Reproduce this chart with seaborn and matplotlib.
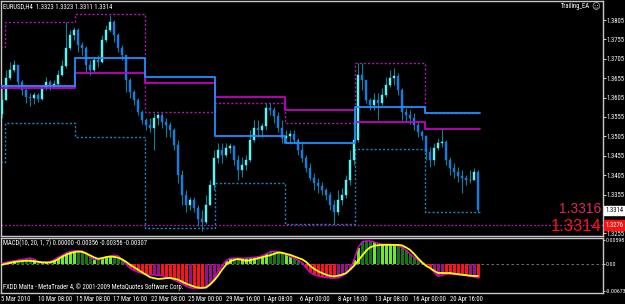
import numpy as np
import pandas as pd
import matplotlib
matplotlib.use("Agg")
import matplotlib.pyplot as plt
from matplotlib import font_manager
import seaborn as sns

# ---------------- data ----------------
first_open = 1.3562
closes = [
    1.3598, 1.3655, 1.3676, 1.3689, 1.3645, 1.3624, 1.3606, 1.3603, 1.3611, 1.3601,
    1.3629, 1.3645, 1.3634, 1.3640, 1.3663, 1.3686, 1.3733, 1.3766, 1.3779, 1.3740,
    1.3733, 1.3689, 1.3676, 1.3702, 1.3696, 1.3753, 1.3779, 1.3800, 1.3766, 1.3733,
    1.3715, 1.3650, 1.3619, 1.3598, 1.3567, 1.3547, 1.3534, 1.3526, 1.3552, 1.3560,
    1.3541, 1.3534, 1.3521, 1.3482, 1.3405, 1.3353, 1.3327, 1.3340, 1.3319, 1.3293,
    1.3283, 1.3327, 1.3379, 1.3448, 1.3469, 1.3456, 1.3474, 1.3479, 1.3443, 1.3417,
    1.3430, 1.3443, 1.3495, 1.3526, 1.3521, 1.3531, 1.3578, 1.3572, 1.3557, 1.3526,
    1.3500, 1.3505, 1.3510, 1.3495, 1.3469, 1.3448, 1.3423, 1.3397, 1.3384, 1.3376,
    1.3366, 1.3353, 1.3327, 1.3309, 1.3340, 1.3353, 1.3392, 1.3443, 1.3495, 1.3663,
    1.3650, 1.3598, 1.3585, 1.3598, 1.3591, 1.3611, 1.3637, 1.3655, 1.3660, 1.3624,
    1.3567, 1.3560, 1.3552, 1.3534, 1.3516, 1.3505, 1.3464, 1.3443, 1.3474, 1.3487,
    1.3490, 1.3443, 1.3423, 1.3412, 1.3402, 1.3397, 1.3392, 1.3392, 1.3412, 1.3314,
]
highs = [
    1.3637, 1.3676, 1.3696, 1.3702, 1.3686, 1.3650, 1.3629, 1.3616, 1.3619, 1.3616,
    1.3637, 1.3658, 1.3650, 1.3650, 1.3676, 1.3702, 1.3800, 1.3779, 1.3787, 1.3784,
    1.3748, 1.3738, 1.3702, 1.3707, 1.3715, 1.3766, 1.3792, 1.3818, 1.3805, 1.3771,
    1.3740, 1.3715, 1.3655, 1.3624, 1.3603, 1.3572, 1.3552, 1.3552, 1.3565, 1.3565,
    1.3565, 1.3552, 1.3541, 1.3526, 1.3495, 1.3417, 1.3366, 1.3348, 1.3348, 1.3327,
    1.3314, 1.3353, 1.3392, 1.3469, 1.3487, 1.3487, 1.3487, 1.3487, 1.3482, 1.3456,
    1.3451, 1.3456, 1.3521, 1.3547, 1.3547, 1.3539, 1.3591, 1.3591, 1.3580, 1.3567,
    1.3547, 1.3521, 1.3521, 1.3521, 1.3500, 1.3487, 1.3456, 1.3435, 1.3410, 1.3397,
    1.3386, 1.3373, 1.3361, 1.3340, 1.3366, 1.3371, 1.3405, 1.3469, 1.3513, 1.3694,
    1.3694, 1.3645, 1.3603, 1.3616, 1.3616, 1.3629, 1.3658, 1.3676, 1.3681, 1.3668,
    1.3629, 1.3578, 1.3572, 1.3565, 1.3541, 1.3521, 1.3508, 1.3477, 1.3487, 1.3500,
    1.3526, 1.3495, 1.3451, 1.3435, 1.3425, 1.3417, 1.3405, 1.3417, 1.3423, 1.3417,
]
lows = [
    1.3552, 1.3598, 1.3650, 1.3671, 1.3629, 1.3611, 1.3591, 1.3583, 1.3588, 1.3593,
    1.3598, 1.3624, 1.3624, 1.3629, 1.3634, 1.3660, 1.3681, 1.3727, 1.3753, 1.3722,
    1.3715, 1.3671, 1.3663, 1.3671, 1.3683, 1.3694, 1.3748, 1.3774, 1.3748, 1.3722,
    1.3702, 1.3619, 1.3603, 1.3585, 1.3560, 1.3536, 1.3521, 1.3516, 1.3469, 1.3534,
    1.3526, 1.3503, 1.3503, 1.3469, 1.3384, 1.3327, 1.3309, 1.3314, 1.3309, 1.3275,
    1.3262, 1.3280, 1.3327, 1.3366, 1.3435, 1.3435, 1.3451, 1.3461, 1.3430, 1.3392,
    1.3399, 1.3417, 1.3438, 1.3490, 1.3503, 1.3503, 1.3521, 1.3560, 1.3539, 1.3516,
    1.3487, 1.3487, 1.3487, 1.3487, 1.3456, 1.3438, 1.3412, 1.3392, 1.3366, 1.3358,
    1.3353, 1.3340, 1.3314, 1.3280, 1.3301, 1.3327, 1.3345, 1.3379, 1.3430, 1.3490,
    1.3624, 1.3591, 1.3572, 1.3572, 1.3547, 1.3585, 1.3606, 1.3632, 1.3637, 1.3611,
    1.3547, 1.3541, 1.3536, 1.3521, 1.3503, 1.3495, 1.3443, 1.3425, 1.3430, 1.3469,
    1.3477, 1.3430, 1.3405, 1.3397, 1.3386, 1.3358, 1.3379, 1.3384, 1.3392, 1.3309,
]

macd_main = [
    0.00012, 0.00037, 0.00057, 0.00075, 0.00092, 0.00107, 0.00125, 0.00142, 0.00112, 0.00050,
    0.00025, 0.00037, 0.00057, 0.00100, 0.00162, 0.00212, 0.00274, 0.00306, 0.00324, 0.00329,
    0.00324, 0.00274, 0.00174, 0.00112, 0.00100, 0.00125, 0.00162, 0.00187, 0.00212, 0.00199,
    0.00100, -0.00012, -0.00107, -0.00162, -0.00212, -0.00244, -0.00261, -0.00274, -0.00279, -0.00286,
    -0.00299, -0.00324, -0.00356, -0.00406, -0.00456, -0.00505, -0.00560, -0.00605, -0.00618, -0.00623,
    -0.00610, -0.00573, -0.00510, -0.00374, -0.00199, -0.00050, 0.00075, 0.00137, 0.00142, 0.00142,
    0.00142, 0.00142, 0.00149, 0.00162, 0.00174, 0.00199, 0.00249, 0.00299, 0.00311, 0.00306,
    0.00286, 0.00237, 0.00182, 0.00137, 0.00087, 0.00025, -0.00100, -0.00212, -0.00274, -0.00306,
    -0.00329, -0.00344, -0.00356, -0.00361, -0.00356, -0.00311, -0.00237, -0.00149, 0.00100, 0.00398,
    0.00548, 0.00573, 0.00573, 0.00548, 0.00510, 0.00491, 0.00491, 0.00491, 0.00473, 0.00448,
    0.00411, 0.00336, 0.00249, 0.00162, 0.00087, 0.00025, -0.00037, -0.00107, -0.00212, -0.00311,
    -0.00286, -0.00261, -0.00261, -0.00269, -0.00274, -0.00281, -0.00294, -0.00311, -0.00331, -0.00356,
]

macd_signal = [
    -0.00025, 0.00000, 0.00025, 0.00042, 0.00057, 0.00067, 0.00075, 0.00075, 0.00062, 0.00050,
    0.00037, 0.00032, 0.00032, 0.00062, 0.00112, 0.00174, 0.00224, 0.00266, 0.00291, 0.00306,
    0.00299, 0.00261, 0.00212, 0.00162, 0.00125, 0.00142, 0.00167, 0.00182, 0.00174, 0.00154,
    0.00112, 0.00050, -0.00025, -0.00087, -0.00149, -0.00212, -0.00274, -0.00336, -0.00361, -0.00381,
    -0.00374, -0.00361, -0.00356, -0.00374, -0.00398, -0.00448, -0.00498, -0.00535, -0.00573, -0.00598,
    -0.00605, -0.00598, -0.00523, -0.00423, -0.00299, -0.00149, -0.00025, 0.00057, 0.00100, 0.00117,
    0.00100, 0.00075, 0.00087, 0.00112, 0.00137, 0.00162, 0.00192, 0.00212, 0.00249, 0.00281,
    0.00274, 0.00249, 0.00224, 0.00187, 0.00149, 0.00112, 0.00050, -0.00050, -0.00125, -0.00187,
    -0.00232, -0.00274, -0.00306, -0.00316, -0.00299, -0.00274, -0.00237, -0.00149, -0.00050, 0.00075,
    0.00199, 0.00324, 0.00411, 0.00448, 0.00466, 0.00473, 0.00473, 0.00473, 0.00473, 0.00473,
    0.00461, 0.00411, 0.00349, 0.00249, 0.00137, 0.00037, -0.00050, -0.00107, -0.00174, -0.00232,
    -0.00232, -0.00232, -0.00232, -0.00249, -0.00261, -0.00274, -0.00286, -0.00299, -0.00306, -0.00307,
]

# weekly steps of the Trailing_EA levels (edges in bar units)
week_edges = [-0.5, 0.75, 18.25, 35.75, 53.25, 70.75, 88.25, 105.75, 119.5]
trail_magenta = [1.3629, 1.3629, 1.3668, 1.3642, 1.3606, 1.3572, 1.3541, 1.3523]
trail_blue = [1.3634, 1.3634, 1.3707, 1.3658, 1.3505, 1.3487, 1.3580, 1.3565]
chan_upper = [1.3735, 1.3800, 1.3820, 1.3567, 1.3591, 1.3539, 1.3694, 1.3565]
chan_lower = [1.3438, 1.3539, 1.3503, 1.3268, 1.3384, 1.3280, 1.3472, 1.3309]

alert_level = 1.3276
alert_label = "1.3276"
bid_label = "1.3314"
price_ticks = [1.3805, 1.3755, 1.3705, 1.3655, 1.3605, 1.3555, 1.3505,
               1.3455, 1.3405, 1.3355, 1.3255]
macd_ticks = [0.00598, 0.0, -0.00673]
macd_tick_labels = ["0.00598", "0.00", "-0.00673"]
time_labels = ["5 Mar 2010", "10 Mar 08:00", "15 Mar 08:00", "17 Mar 16:00",
               "22 Mar 08:00", "25 Mar 00:00", "29 Mar 16:00", "1 Apr 08:00",
               "6 Apr 00:00", "8 Apr 16:00", "13 Apr 08:00", "16 Apr 00:00",
               "20 Apr 16:00"]
title_text = "EURUSD,H4  1.3323 1.3323 1.3311 1.3314"
ea_name = "Trailing_EA"
macd_text = "MACD(10, 20, 1, 7) 0.00000 -0.00356 -0.00356 -0.00307"
footer_text = "FXDD Malta - MetaTrader 4, \u00a9 2001-2009 MetaQuotes Software Corp."
obj_text_1 = "1.3316"
obj_text_2 = "1.3314"

# ---------------- styling ----------------
sns.set_style("dark")
installed = {f.name for f in font_manager.fontManager.ttflist}
narrow = next((n for n in ['Liberation Sans Narrow', 'Roboto Condensed',
                           'Open Sans Condensed', 'Arial Narrow'] if n in installed), None)
if narrow:
    SMALL_FAM = [narrow, 'DejaVu Sans']
    FS = 4.8
else:
    SMALL_FAM = ['Liberation Sans', 'DejaVu Sans']
    FS = 4.1
plt.rcParams['font.family'] = SMALL_FAM
W, H = 625, 304
AXC = '#c8c8c8'

fig = plt.figure(figsize=(W / 100, H / 100), dpi=100, facecolor='black')
ax = fig.add_axes([1 / W, 68 / H, 602 / W, 235 / H], facecolor='black')
axm = fig.add_axes([1 / W, 11 / H, 602 / W, 55 / H], facecolor='black')

def fx(px):
    return px / W

def fy(py):
    return 1 - py / H

x = np.arange(len(closes))
opens = [first_open] + closes[:-1]
df = pd.DataFrame({"bar": x, "open": opens, "close": closes,
                   "high": highs, "low": lows,
                   "macd": macd_main, "signal": macd_signal})
df["bull"] = df["close"] >= df["open"]

# candles: wicks then bodies
ax.vlines(df["bar"], df["low"], df["high"], color='#138092', linewidth=0.8, zorder=2.5)
body_lo = df[["open", "close"]].min(axis=1)
body_hi = df[["open", "close"]].max(axis=1)
ccol = np.where(df["bull"], '#5ef2ee', '#1a7ae0')
ax.bar(df["bar"], body_hi - body_lo, bottom=body_lo, width=0.55,
       color=ccol, edgecolor=ccol, linewidth=0.3, zorder=3)

# step lines
step_x = week_edges
def step_vals(v):
    return list(v) + [v[-1]]

sns.lineplot(x=step_x, y=step_vals(chan_upper), ax=ax, drawstyle='steps-post',
             color='#b018b0', linewidth=1.0, linestyle=(0, (1.5, 1.5)),
             estimator=None, zorder=2)
sns.lineplot(x=step_x, y=step_vals(chan_lower), ax=ax, drawstyle='steps-post',
             color='#2080c0', linewidth=1.0, linestyle=(0, (1.5, 1.5)),
             estimator=None, zorder=2)
sns.lineplot(x=step_x, y=step_vals(trail_magenta), ax=ax, drawstyle='steps-post',
             color='#c400c4', linewidth=1.3, estimator=None, zorder=4)
sns.lineplot(x=step_x, y=step_vals(trail_blue), ax=ax, drawstyle='steps-post',
             color='#1e90ff', linewidth=1.3, estimator=None, zorder=4)

ax.axhline(alert_level, color='#b018b0', linewidth=0.9,
           linestyle=(0, (1.5, 1.5)), zorder=2)

xlim = (-0.25, 150.25)
ax.set_xlim(*xlim)
ax.set_ylim(1.3248, 1.3854)
ax.set_xticks([])
ax.set_xlabel("")
ax.set_ylabel("")
ax.yaxis.tick_right()
ax.set_yticks(price_ticks)
ax.set_yticklabels([f"{p:.4f}" for p in price_ticks])
ax.tick_params(axis='y', direction='out', length=2, width=0.8, color=AXC,
               labelcolor='white', labelsize=FS, pad=0.4)
for s in ax.spines.values():
    s.set_visible(True)
    s.set_color(AXC)
    s.set_linewidth(1.0)
ax.grid(False)

# price boxes on the axis
ytr = ax.get_yaxis_transform()
ax.text(1.0045, float(closes[-1]), bid_label, transform=ytr, fontsize=FS,
        color='black', va='center', ha='left', clip_on=False, zorder=10,
        bbox=dict(boxstyle='square,pad=0.2', fc='white', ec='white'))
ax.text(1.0045, alert_level, alert_label, transform=ytr, fontsize=FS,
        color='white', va='center', ha='left', clip_on=False, zorder=10,
        bbox=dict(boxstyle='square,pad=0.2', fc='#ff1010', ec='#ff1010'))

# ---------------- MACD panel ----------------
hcol = []
for m, b in zip(df["macd"], df["bull"]):
    if m >= 0:
        hcol.append('#66ee22' if b else '#117711')
    else:
        hcol.append('#9a108a' if b else '#ff1020')
axm.bar(df["bar"], df["macd"], width=0.75, color=hcol, linewidth=0, zorder=2)
axm.axhline(0, color='#808080', linewidth=0.6, linestyle=(0, (3, 3)), zorder=1)
sns.lineplot(data=df, x="bar", y="macd", ax=axm, color='#d000d0',
             linewidth=1.1, estimator=None, zorder=3)
sns.lineplot(data=df, x="bar", y="signal", ax=axm, color='#ffff00',
             linewidth=1.3, estimator=None, zorder=4)
axm.set_xlim(*xlim)
axm.set_ylim(-0.00734, 0.00647)
axm.set_xlabel("")
axm.set_ylabel("")
axm.yaxis.tick_right()
axm.set_yticks(macd_ticks)
axm.set_yticklabels(macd_tick_labels)
axm.tick_params(axis='y', direction='out', length=1.5, width=0.8, color=AXC,
                labelcolor='white', labelsize=FS * 0.86, pad=0.3)
tick_pos = [(-1 + 37.43 * k) / 4 for k in range(len(time_labels))]
axm.set_xticks(tick_pos)
axm.set_xticklabels(time_labels)
axm.tick_params(axis='x', direction='out', length=2, width=0.8, color=AXC,
                labelcolor='white', labelsize=FS, pad=0.2)
for lab in axm.get_xticklabels():
    lab.set_horizontalalignment('left')
for s in axm.spines.values():
    s.set_visible(True)
    s.set_color(AXC)
    s.set_linewidth(1.0)
axm.grid(False)

# ---------------- texts ----------------
fig.text(fx(3), fy(6.5), title_text, color='white', fontsize=FS, va='center', ha='left')
fig.text(fx(590), fy(6.5), ea_name, color='white', fontsize=FS, va='center', ha='right')
fig.text(fx(596), fy(6.5), "\u263a", color='#c8c8c8', fontsize=6, va='center',
         ha='center', family=['DejaVu Sans'])
fig.text(fx(3), fy(243.5), macd_text, color='white', fontsize=FS, va='center', ha='left')
fig.text(fx(3), fy(287), footer_text, color='white', fontsize=FS, va='center', ha='left')
fig.text(fx(601), fy(209), obj_text_1, color='#e0245e', fontsize=10, va='center',
         ha='right', family=['Liberation Sans'])
fig.text(fx(601), fy(226.5), obj_text_2, color='#ff1414', fontsize=12, va='center',
         ha='right', family=['Liberation Sans'])

fig.savefig("out.png", dpi=100, facecolor='black')
